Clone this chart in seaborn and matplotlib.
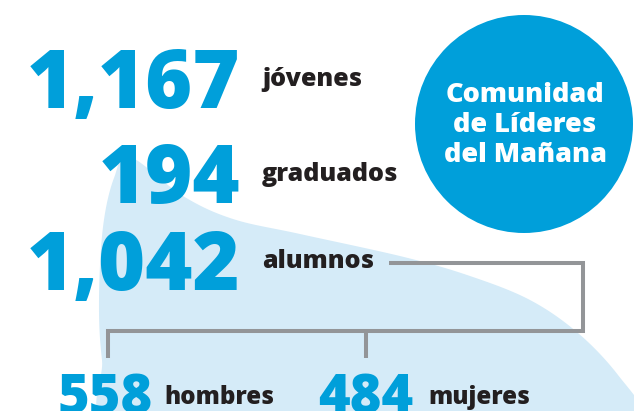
import numpy as np
import matplotlib
matplotlib.use("Agg")
import matplotlib.pyplot as plt
from matplotlib.patches import Circle, Polygon
import seaborn as sns

# ---- data ----
top_values = [1167, 194, 1042]
top_labels = ["jóvenes", "graduados", "alumnos"]
split_values = [558, 484]
split_labels = ["hombres", "mujeres"]
title_lines = ["Comunidad", "de Líderes", "del Mañana"]

BLUE = "#009fda"
LIGHT = "#d5ebf8"
DARK = "#231f20"
GRAY = "#939598"

sns.set_theme(style="white")
plt.rcParams["font.family"] = ["Open Sans", "DejaVu Sans"]

W, H = 634, 411
fig = plt.figure(figsize=(W / 100, H / 100), dpi=100)
ax = fig.add_axes([0, 0, 1, 1])
ax.set_xlim(0, W)
ax.set_ylim(H, 0)
ax.axis("off")


def catmull(pts, n=20):
    pts = np.asarray(pts, float)
    P = np.vstack([pts[-1], pts, pts[0], pts[1]])
    out = []
    for i in range(1, len(P) - 2):
        p0, p1, p2, p3 = P[i - 1], P[i], P[i + 1], P[i + 2]
        for t in np.linspace(0, 1, n, endpoint=False):
            t2, t3 = t * t, t * t * t
            out.append(0.5 * ((2 * p1) + (-p0 + p2) * t + (2 * p0 - 5 * p1 + 4 * p2 - p3) * t2
                              + (-p0 + 3 * p1 - 3 * p2 + p3) * t3))
    return np.array(out)


blob_outline = [(130, 157), (183, 196), (233, 219), (300, 234), (404, 257), (470, 276),
                (530, 300), (578, 333), (618, 375), (645, 420), (600, 440), (300, 440),
                (114, 430), (102, 360), (99, 300), (103, 227), (114, 178)]
ax.add_patch(Polygon(catmull(blob_outline), closed=True, facecolor=LIGHT, edgecolor="none", zorder=0))

# circle
ax.add_patch(Circle((524, 124), 109, facecolor=BLUE, edgecolor="none", zorder=1))
for i, line in enumerate(title_lines):
    ax.text(525, 102 + 30 * i, line, color="white", fontsize=19.5, fontweight="heavy",
            ha="center", va="baseline", zorder=3)

# big numbers
baselines = [108, 203, 290]
for v, lab, yb in zip(top_values, top_labels, baselines):
    ax.text(240, yb, f"{v:,}", color=BLUE, fontsize=58, fontweight="heavy",
            ha="right", va="baseline", zorder=3)
    ax.text(262, yb - 22, lab, color=DARK, fontsize=18.1, fontweight="heavy",
            ha="left", va="baseline", zorder=3)

# bracket
lw = 2.9
ax.plot([389, 583, 583, 108, 108], [263, 263, 331, 331, 358], color=GRAY, lw=lw,
        solid_joinstyle="miter", solid_capstyle="butt", zorder=2)
ax.plot([366, 366], [331, 358], color=GRAY, lw=lw, solid_capstyle="butt", zorder=2)

# split numbers
for v, lab, xr, xl in zip(split_values, split_labels, [153, 413], [164, 428]):
    ax.text(xr, 413, f"{v:,}", color=BLUE, fontsize=39, fontweight="heavy",
            ha="right", va="baseline", zorder=3)
    ax.text(xl, 404, lab, color=DARK, fontsize=17.4, fontweight="heavy",
            ha="left", va="baseline", zorder=3)

fig.savefig("out.png", dpi=100, facecolor="white")
